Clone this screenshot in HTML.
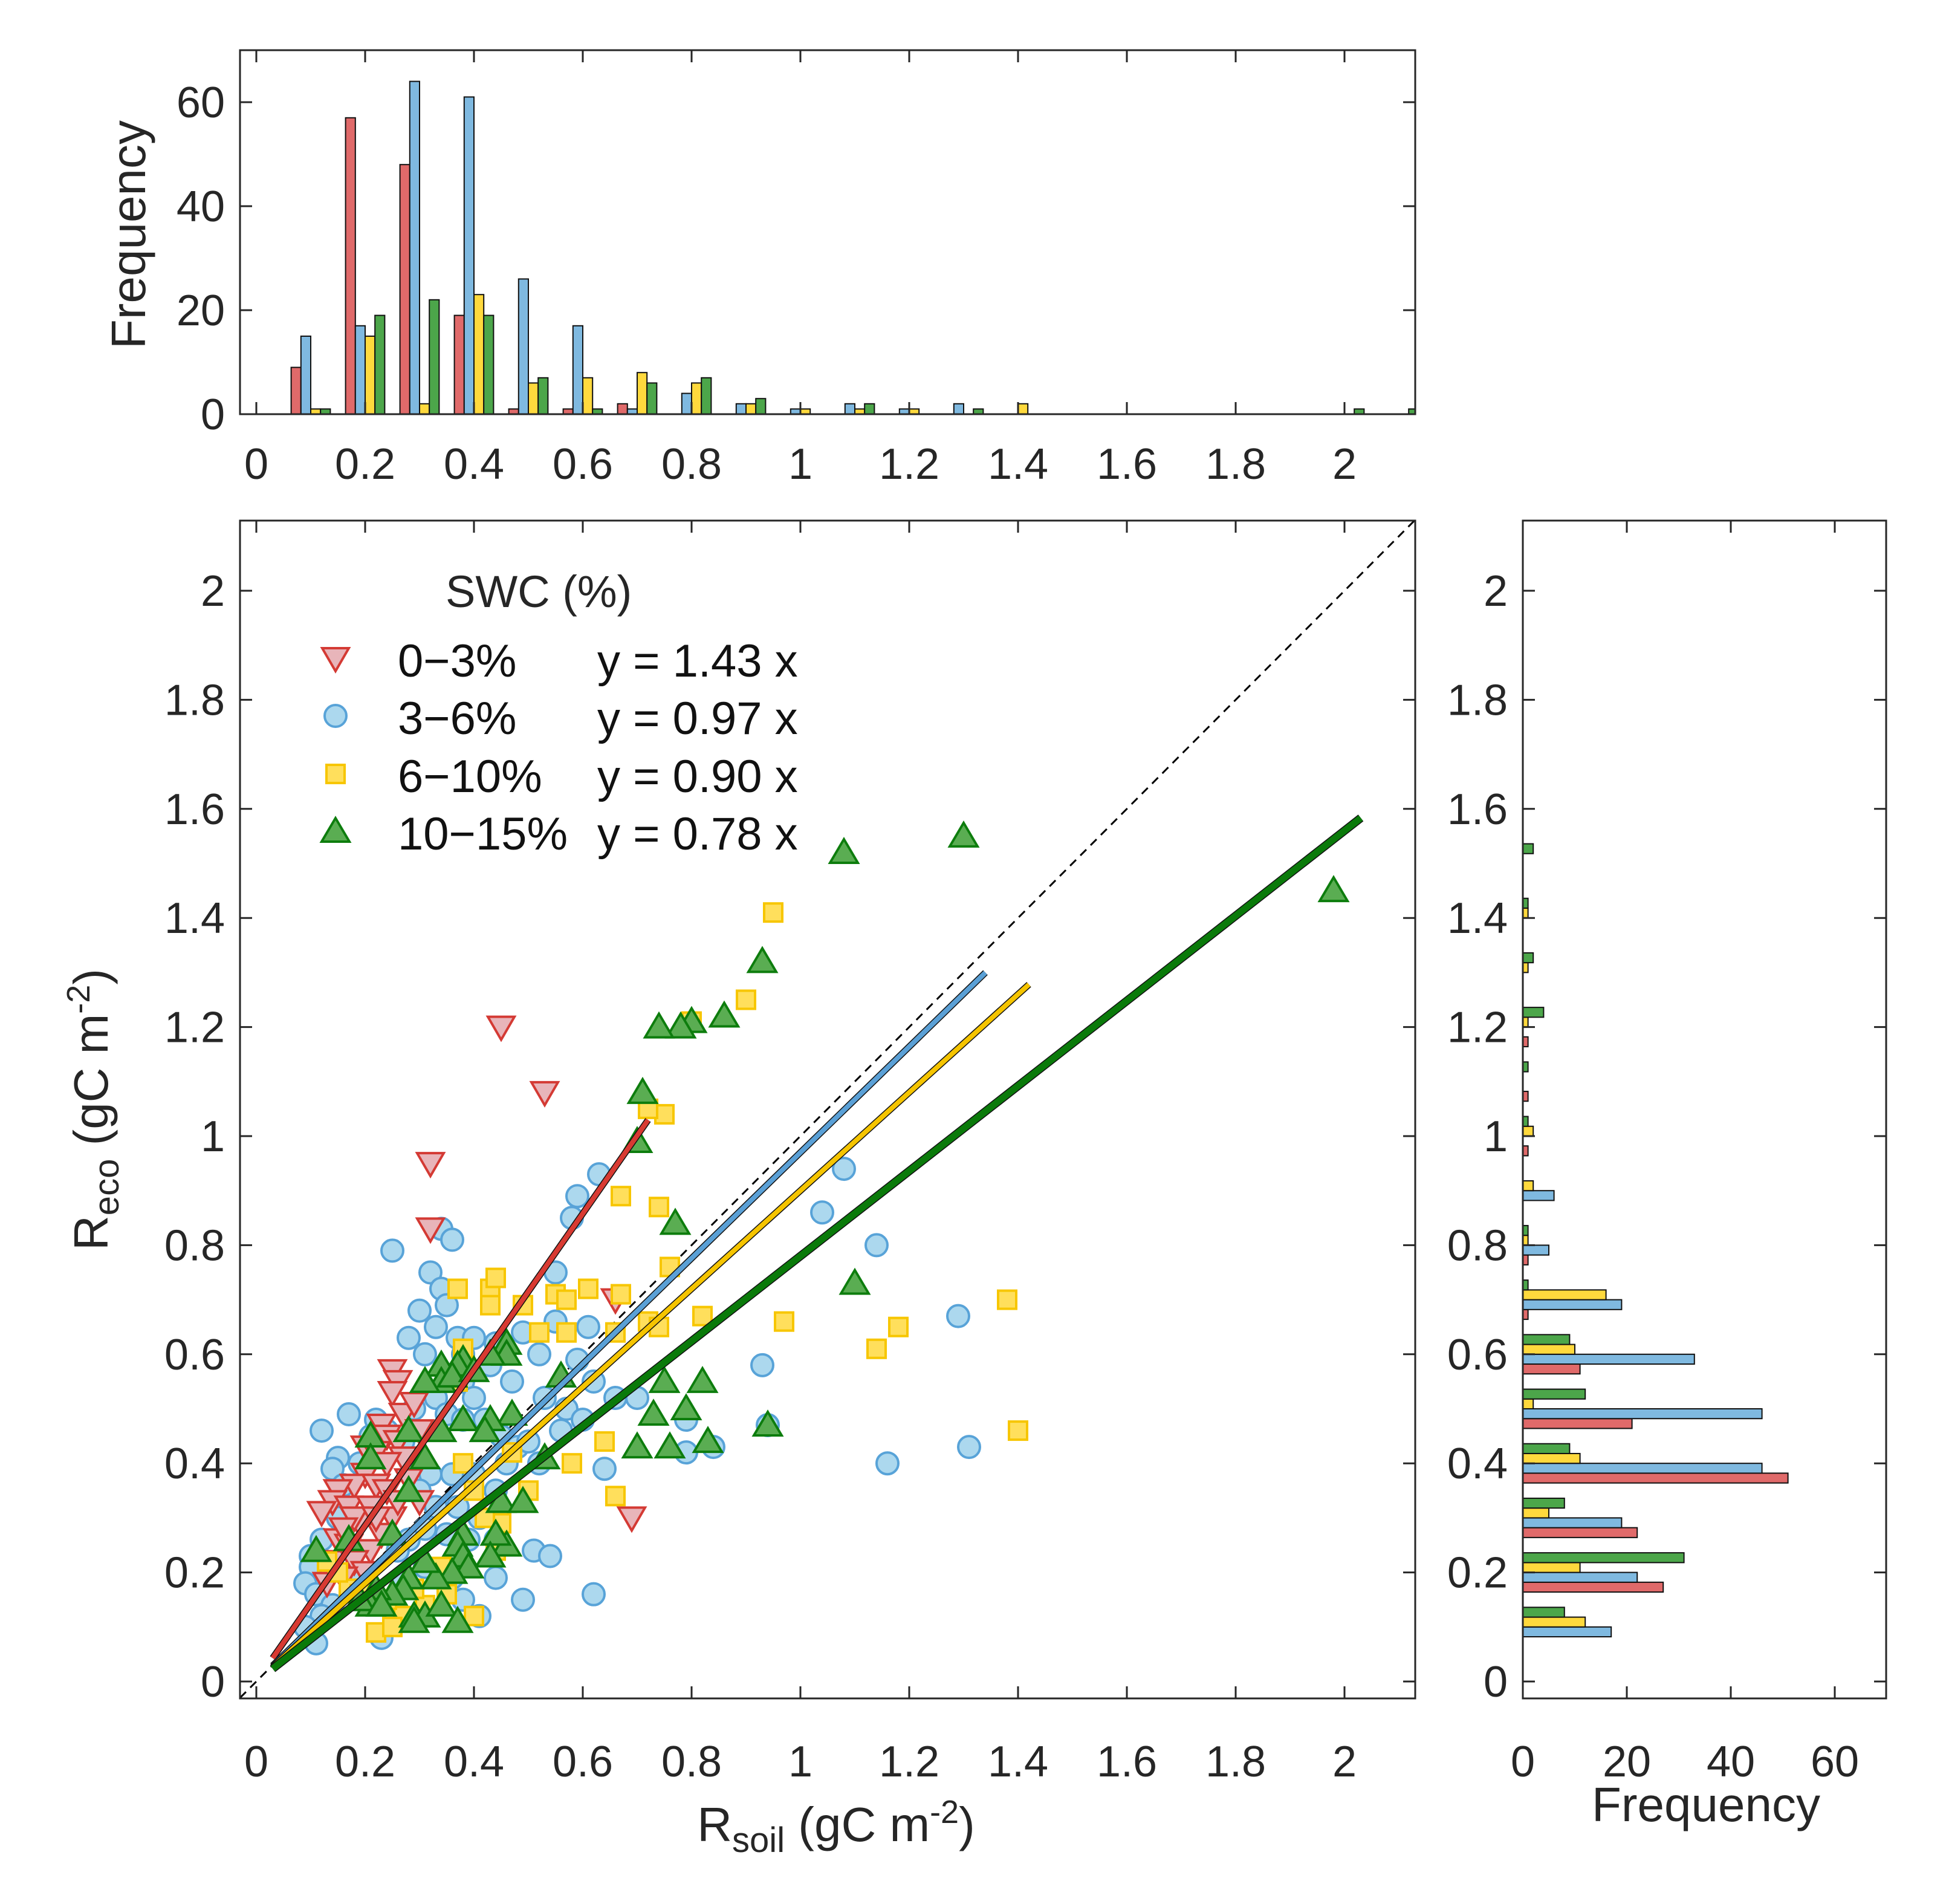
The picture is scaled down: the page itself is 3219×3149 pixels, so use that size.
<!DOCTYPE html>
<html><head><meta charset="utf-8"><style>
body{margin:0;background:#fff}
svg{display:block;font-family:"Liberation Sans",Arial,sans-serif;}
</style></head><body>
<svg id="fig" width="3219" height="3149" viewBox="0 0 3219 3149" xmlns="http://www.w3.org/2000/svg">
<rect width="3219" height="3149" fill="#fff"/>
<g id="mainPlot"></g>
<g id="topHist"></g>
<g id="rightHist"></g>
</svg>
<script>
const groupNames=['0-3%','3-6%','6-10%','10-15%'];
const slopes=[1.43,0.97,0.90,0.78];
const lineMaxX=[0.72,1.34,1.42,2.03];
const binCenters=[0.1,0.2,0.3,0.4,0.5,0.6,0.7,0.8,0.9,1.0,1.1,1.2,1.3,1.4,1.5,2.0,2.1];
const topRed=[9,57,48,19,1,1,2,0,0,0,0,0,0,0,0,0,0];
const topBlue=[15,17,64,61,26,17,1,4,2,1,2,1,2,0,0,0,0];
const topYellow=[1,15,2,23,6,7,8,6,2,1,1,1,0,2,0,0,0];
const topGreen=[1,19,22,19,7,1,6,7,3,0,2,0,1,0,0,1,1];
const rightRed=[0,27,22,51,21,11,1,1,0,1,1,1,0,0,0,0,0];
const rightBlue=[17,22,19,46,46,33,19,5,6,0,0,0,0,0,0,0,0];
const rightYellow=[12,11,5,11,2,10,16,1,2,2,0,1,1,1,0,0,0];
const rightGreen=[8,31,8,9,12,9,1,1,0,1,1,4,2,1,2,0,0];
const axisTicks=[0,0.2,0.4,0.6,0.8,1,1.2,1.4,1.6,1.8,2];
const freqTicks=[0,20,40,60];
const redX=[0.45,0.53,0.32,0.32,0.69,0.66,0.25,0.26,0.25,0.23,0.24,0.2,0.22,0.26,0.27,0.24,0.20,0.18,0.22,0.15,0.14,0.12,0.17,0.21,0.25,0.19,0.23,0.15,0.17,0.21,0.14,0.18,0.20,0.16,0.28,0.30,0.27,0.29,0.3,0.18,0.22,0.16,0.13,0.24,0.26];
const redY=[1.20,1.08,0.95,0.83,0.30,0.70,0.57,0.55,0.53,0.47,0.45,0.43,0.42,0.44,0.41,0.40,0.38,0.36,0.36,0.35,0.33,0.31,0.32,0.32,0.30,0.29,0.27,0.26,0.25,0.24,0.22,0.22,0.20,0.19,0.37,0.33,0.49,0.51,0.46,0.30,0.30,0.28,0.18,0.35,0.33];
const blueX=[0.25,0.34,0.36,0.32,0.34,0.63,0.59,0.58,1.08,1.04,1.14,1.29,0.93,0.94,0.84,0.79,0.79,1.16,1.31,0.62,0.49,0.51,0.54,0.64,0.57,0.59,0.61,0.52,0.55,0.55,0.28,0.30,0.33,0.35,0.37,0.31,0.36,0.38,0.40,0.33,0.35,0.38,0.42,0.45,0.48,0.52,0.50,0.46,0.40,0.36,0.32,0.30,0.33,0.37,0.41,0.44,0.39,0.35,0.31,0.28,0.26,0.22,0.12,0.17,0.15,0.14,0.19,0.16,0.15,0.21,0.10,0.10,0.09,0.12,0.11,0.14,0.12,0.09,0.11,0.23,0.41,0.44,0.36,0.31,0.38,0.56,0.60,0.53,0.47,0.43,0.40,0.38,0.29,0.27,0.24,0.66,0.70,0.62,0.44,0.49,0.44,0.27,0.18,0.20];
const blueY=[0.79,0.83,0.81,0.75,0.72,0.93,0.89,0.85,0.94,0.86,0.80,0.67,0.58,0.47,0.43,0.42,0.48,0.40,0.43,0.16,0.15,0.24,0.23,0.39,0.50,0.59,0.65,0.60,0.66,0.75,0.63,0.68,0.65,0.69,0.63,0.60,0.56,0.55,0.52,0.52,0.49,0.48,0.48,0.45,0.43,0.40,0.44,0.40,0.38,0.38,0.38,0.35,0.32,0.32,0.30,0.26,0.26,0.27,0.28,0.26,0.24,0.48,0.46,0.49,0.41,0.39,0.40,0.36,0.30,0.45,0.23,0.21,0.18,0.26,0.16,0.14,0.12,0.10,0.07,0.08,0.12,0.19,0.19,0.21,0.15,0.46,0.48,0.52,0.55,0.58,0.63,0.60,0.50,0.44,0.46,0.52,0.52,0.55,0.62,0.64,0.35,0.19,0.20,0.17];
const yelX=[0.95,0.90,0.80,0.75,0.72,0.67,0.74,0.76,0.37,0.43,0.44,0.43,0.49,0.52,0.55,0.57,0.61,0.67,0.72,0.74,0.66,0.57,0.82,0.97,1.14,1.18,1.38,1.40,0.64,0.58,0.66,0.50,0.45,0.38,0.37,0.38,0.40,0.42,0.44,0.47,0.40,0.27,0.22,0.25,0.24,0.17,0.15,0.13,0.19,0.31,0.29,0.35,0.34];
const yelY=[1.41,1.25,1.21,1.04,1.05,0.89,0.87,0.76,0.72,0.72,0.74,0.69,0.69,0.64,0.71,0.70,0.72,0.71,0.66,0.65,0.64,0.64,0.67,0.66,0.61,0.65,0.70,0.46,0.44,0.40,0.34,0.35,0.29,0.61,0.55,0.40,0.35,0.30,0.24,0.42,0.12,0.12,0.09,0.10,0.15,0.17,0.20,0.22,0.16,0.14,0.17,0.16,0.21];
const grnX=[1.30,1.08,1.98,0.93,0.86,0.80,0.78,0.74,0.71,0.70,0.77,1.10,0.82,0.75,0.73,0.79,0.70,0.76,0.83,0.94,0.46,0.46,0.43,0.38,0.37,0.34,0.34,0.31,0.36,0.40,0.47,0.43,0.38,0.42,0.34,0.28,0.31,0.21,0.21,0.56,0.53,0.45,0.49,0.46,0.44,0.43,0.38,0.37,0.38,0.39,0.36,0.33,0.31,0.28,0.27,0.25,0.22,0.21,0.19,0.23,0.29,0.31,0.34,0.37,0.28,0.25,0.17,0.11,0.29];
const grnY=[1.55,1.52,1.45,1.32,1.22,1.21,1.20,1.20,1.08,0.99,0.84,0.73,0.55,0.55,0.49,0.50,0.43,0.43,0.44,0.47,0.62,0.60,0.60,0.59,0.58,0.58,0.55,0.55,0.56,0.57,0.49,0.48,0.48,0.46,0.46,0.46,0.41,0.45,0.41,0.56,0.41,0.33,0.33,0.25,0.27,0.23,0.27,0.25,0.23,0.21,0.20,0.19,0.22,0.19,0.17,0.16,0.17,0.14,0.15,0.14,0.12,0.12,0.14,0.11,0.35,0.27,0.26,0.24,0.11];

const NS='http://www.w3.org/2000/svg';
function mk(parent,tag,attrs,text){const e=document.createElementNS(NS,tag);for(const k in attrs)e.setAttribute(k,attrs[k]);if(text!==undefined)e.textContent=text;parent.appendChild(e);return e;}
const L=397,R=2341,T=861,B=2809;
const sx=v=>424+v*900;
const sy=v=>2781-v*902;
const TT=83,TB=685;
const hy=v=>685-v*8.6;
const RL=2519,RR=3120;
const hx=v=>2519+v*8.6;
const TC='#262626';
const FS=72;
const histFill=['#e06a6a','#7fb9e0','#ffd93d','#4ca64a'];
const mFill=['#e8b5ba','#acd8ee','#ffdf5c','#5aad52'];
const mStroke=['#d43a34','#58a3d8','#f7c600','#0d7d0d'];
const lineCol=['#d83a32','#5aa0d6','#f5c400','#0a7a0a'];

const mainG=document.getElementById('mainPlot');
const clipD=mk(mainG,'clipPath',{id:'cm'});mk(clipD,'rect',{x:L,y:T,width:R-L,height:B-T});
const plotG=mk(mainG,'g',{'clip-path':'url(#cm)'});
const dl=mk(plotG,'line',{x1:sx(-0.03),y1:sy(-0.03),x2:sx(2.14),y2:sy(2.14),stroke:'#000','stroke-width':3,'stroke-dasharray':'14,10'});


const sets=[[redX,redY],[blueX,blueY],[yelX,yelY],[grnX,grnY]];
function marker(g,i,x,y){
  let e;
  const a={fill:mFill[i],stroke:mStroke[i],'stroke-width':4};
  if(i===0){e=mk(g,'polygon',Object.assign({points:`${x-22},${y-17} ${x+22},${y-17} ${x},${y+21}`},a));}
  else if(i===1){e=mk(g,'circle',Object.assign({cx:x,cy:y,r:18},a));}
  else if(i===2){e=mk(g,'rect',Object.assign({x:x-15,y:y-15,width:30,height:30},a));}
  else {e=mk(g,'polygon',Object.assign({points:`${x-23},${y+17} ${x+23},${y+17} ${x},${y-22}`},a));}
  return e;
}
[1,0,2,3].forEach(i=>{
  const g=mk(plotG,'g',{});
  
  
  const xs=sets[i][0],ys=sets[i][1];
  xs.forEach((x,k)=>{const m=marker(g,i,sx(x),sy(ys[k]));
    
    });
});
[0,1,2,3].forEach(i=>{
  const x1=0.03,x2=lineMaxX[i];
  const w=i===3?11:8;
  mk(plotG,'line',{x1:sx(x1),y1:sy(x1*slopes[i]),x2:sx(x2),y2:sy(x2*slopes[i]),stroke:'#111','stroke-width':w+3});
  const ln=mk(plotG,'line',{x1:sx(x1),y1:sy(x1*slopes[i]),x2:sx(x2),y2:sy(x2*slopes[i]),stroke:lineCol[i],'stroke-width':w});
  
  
});
mk(mainG,'rect',{x:L,y:T,width:R-L,height:B-T,fill:'none',stroke:TC,'stroke-width':3});
axisTicks.forEach(v=>{
  mk(mainG,'line',{x1:sx(v),y1:B,x2:sx(v),y2:B-20,stroke:TC,'stroke-width':3});
  mk(mainG,'line',{x1:sx(v),y1:T,x2:sx(v),y2:T+20,stroke:TC,'stroke-width':3});
  mk(mainG,'line',{x1:L,y1:sy(v),x2:L+20,y2:sy(v),stroke:TC,'stroke-width':3});
  mk(mainG,'line',{x1:R,y1:sy(v),x2:R-20,y2:sy(v),stroke:TC,'stroke-width':3});
  const tx=mk(mainG,'text',{x:sx(v),y:2938,'text-anchor':'middle','font-size':FS,fill:TC},String(v));
  
  
  const ty=mk(mainG,'text',{x:372,y:sy(v)+25,'text-anchor':'end','font-size':FS,fill:TC},String(v));
  
  
});
function titleSpans(t,sub){
  mk(t,'tspan',{},'R');
  mk(t,'tspan',{'font-size':58,dy:18},sub);
  mk(t,'tspan',{dy:-18},' (gC m');
  mk(t,'tspan',{'font-size':54,dy:-30},'-2');
  mk(t,'tspan',{dy:30},')');
}
const xt=mk(mainG,'text',{x:1383,y:3045,'text-anchor':'middle','font-size':80,fill:TC});
titleSpans(xt,'soil');


const yt=mk(mainG,'text',{x:0,y:0,'text-anchor':'middle','font-size':80,fill:TC,transform:'translate(178,1835) rotate(-90)'});
titleSpans(yt,'eco');


const lg=mk(mainG,'g',{});


mk(lg,'text',{x:737,y:1004,'font-size':74,fill:TC},'SWC (%)');
const rows=[1093,1188,1284,1379];
rows.forEach((ry,i)=>{
  const mm=marker(lg,i,555,ry-4);
  
  
  const t1=mk(lg,'text',{x:658,y:ry+26,'font-size':76,fill:'#111'},groupNames[i].replace('-','\u2212'));
  
  
  const t2=mk(lg,'text',{x:988,y:ry+26,'font-size':76,fill:'#111'},'y = '+slopes[i].toFixed(2)+' x');
  
  
});

const topG=document.getElementById('topHist');
const tSeries=[topRed,topBlue,topYellow,topGreen];
const offs=[-0.027,-0.009,0.009,0.027];
const bw=0.018*900;
const ctop=mk(topG,'clipPath',{id:'ct'});mk(ctop,'rect',{x:L,y:TT,width:R-L,height:TB-TT});
const tg=mk(topG,'g',{'clip-path':'url(#ct)'});
binCenters.forEach((c,k)=>{
  tSeries.forEach((s,i)=>{
    const v=s[k];if(!v)return;
    const x=sx(c+offs[i])-bw/2;
    const r=mk(tg,'rect',{x:x,y:hy(v),width:bw,height:hy(0)-hy(v),fill:histFill[i],stroke:'#111','stroke-width':2});
    
    
  });
});
mk(topG,'rect',{x:L,y:TT,width:R-L,height:TB-TT,fill:'none',stroke:TC,'stroke-width':3});
axisTicks.forEach(v=>{
  mk(topG,'line',{x1:sx(v),y1:TB,x2:sx(v),y2:TB-20,stroke:TC,'stroke-width':3});
  mk(topG,'line',{x1:sx(v),y1:TT,x2:sx(v),y2:TT+20,stroke:TC,'stroke-width':3});
  const tx=mk(topG,'text',{x:sx(v),y:792,'text-anchor':'middle','font-size':FS,fill:TC},String(v));
  
  
});
freqTicks.forEach(v=>{
  mk(topG,'line',{x1:L,y1:hy(v),x2:L+20,y2:hy(v),stroke:TC,'stroke-width':3});
  mk(topG,'line',{x1:R,y1:hy(v),x2:R-20,y2:hy(v),stroke:TC,'stroke-width':3});
  const ty=mk(topG,'text',{x:372,y:hy(v)+25,'text-anchor':'end','font-size':FS,fill:TC},String(v));
  
  
});
const tyt=mk(topG,'text',{x:0,y:0,'text-anchor':'middle','font-size':80,fill:TC,transform:'translate(240,388) rotate(-90)'},'Frequency');



const rightG=document.getElementById('rightHist');
const rSeries=[rightRed,rightBlue,rightYellow,rightGreen];
const bh=0.018*902;
binCenters.forEach((c,k)=>{
  rSeries.forEach((s,i)=>{
    const v=s[k];if(!v)return;
    const y=sy(c+offs[i])-bh/2;
    const r=mk(rightG,'rect',{x:hx(0),y:y,width:hx(v)-hx(0),height:bh,fill:histFill[i],stroke:'#111','stroke-width':2});
    
    
  });
});
mk(rightG,'rect',{x:RL,y:T,width:RR-RL,height:B-T,fill:'none',stroke:TC,'stroke-width':3});
axisTicks.forEach(v=>{
  mk(rightG,'line',{x1:RL,y1:sy(v),x2:RL+20,y2:sy(v),stroke:TC,'stroke-width':3});
  mk(rightG,'line',{x1:RR,y1:sy(v),x2:RR-20,y2:sy(v),stroke:TC,'stroke-width':3});
  const ty=mk(rightG,'text',{x:2494,y:sy(v)+25,'text-anchor':'end','font-size':FS,fill:TC},String(v));
  
  
});
freqTicks.forEach(v=>{
  mk(rightG,'line',{x1:hx(v),y1:B,x2:hx(v),y2:B-20,stroke:TC,'stroke-width':3});
  mk(rightG,'line',{x1:hx(v),y1:T,x2:hx(v),y2:T+20,stroke:TC,'stroke-width':3});
  const tx=mk(rightG,'text',{x:hx(v),y:2938,'text-anchor':'middle','font-size':FS,fill:TC},String(v));
  
  
});
const rxt=mk(rightG,'text',{x:2822,y:3012,'text-anchor':'middle','font-size':80,fill:TC},'Frequency');


</script>
</body></html>
